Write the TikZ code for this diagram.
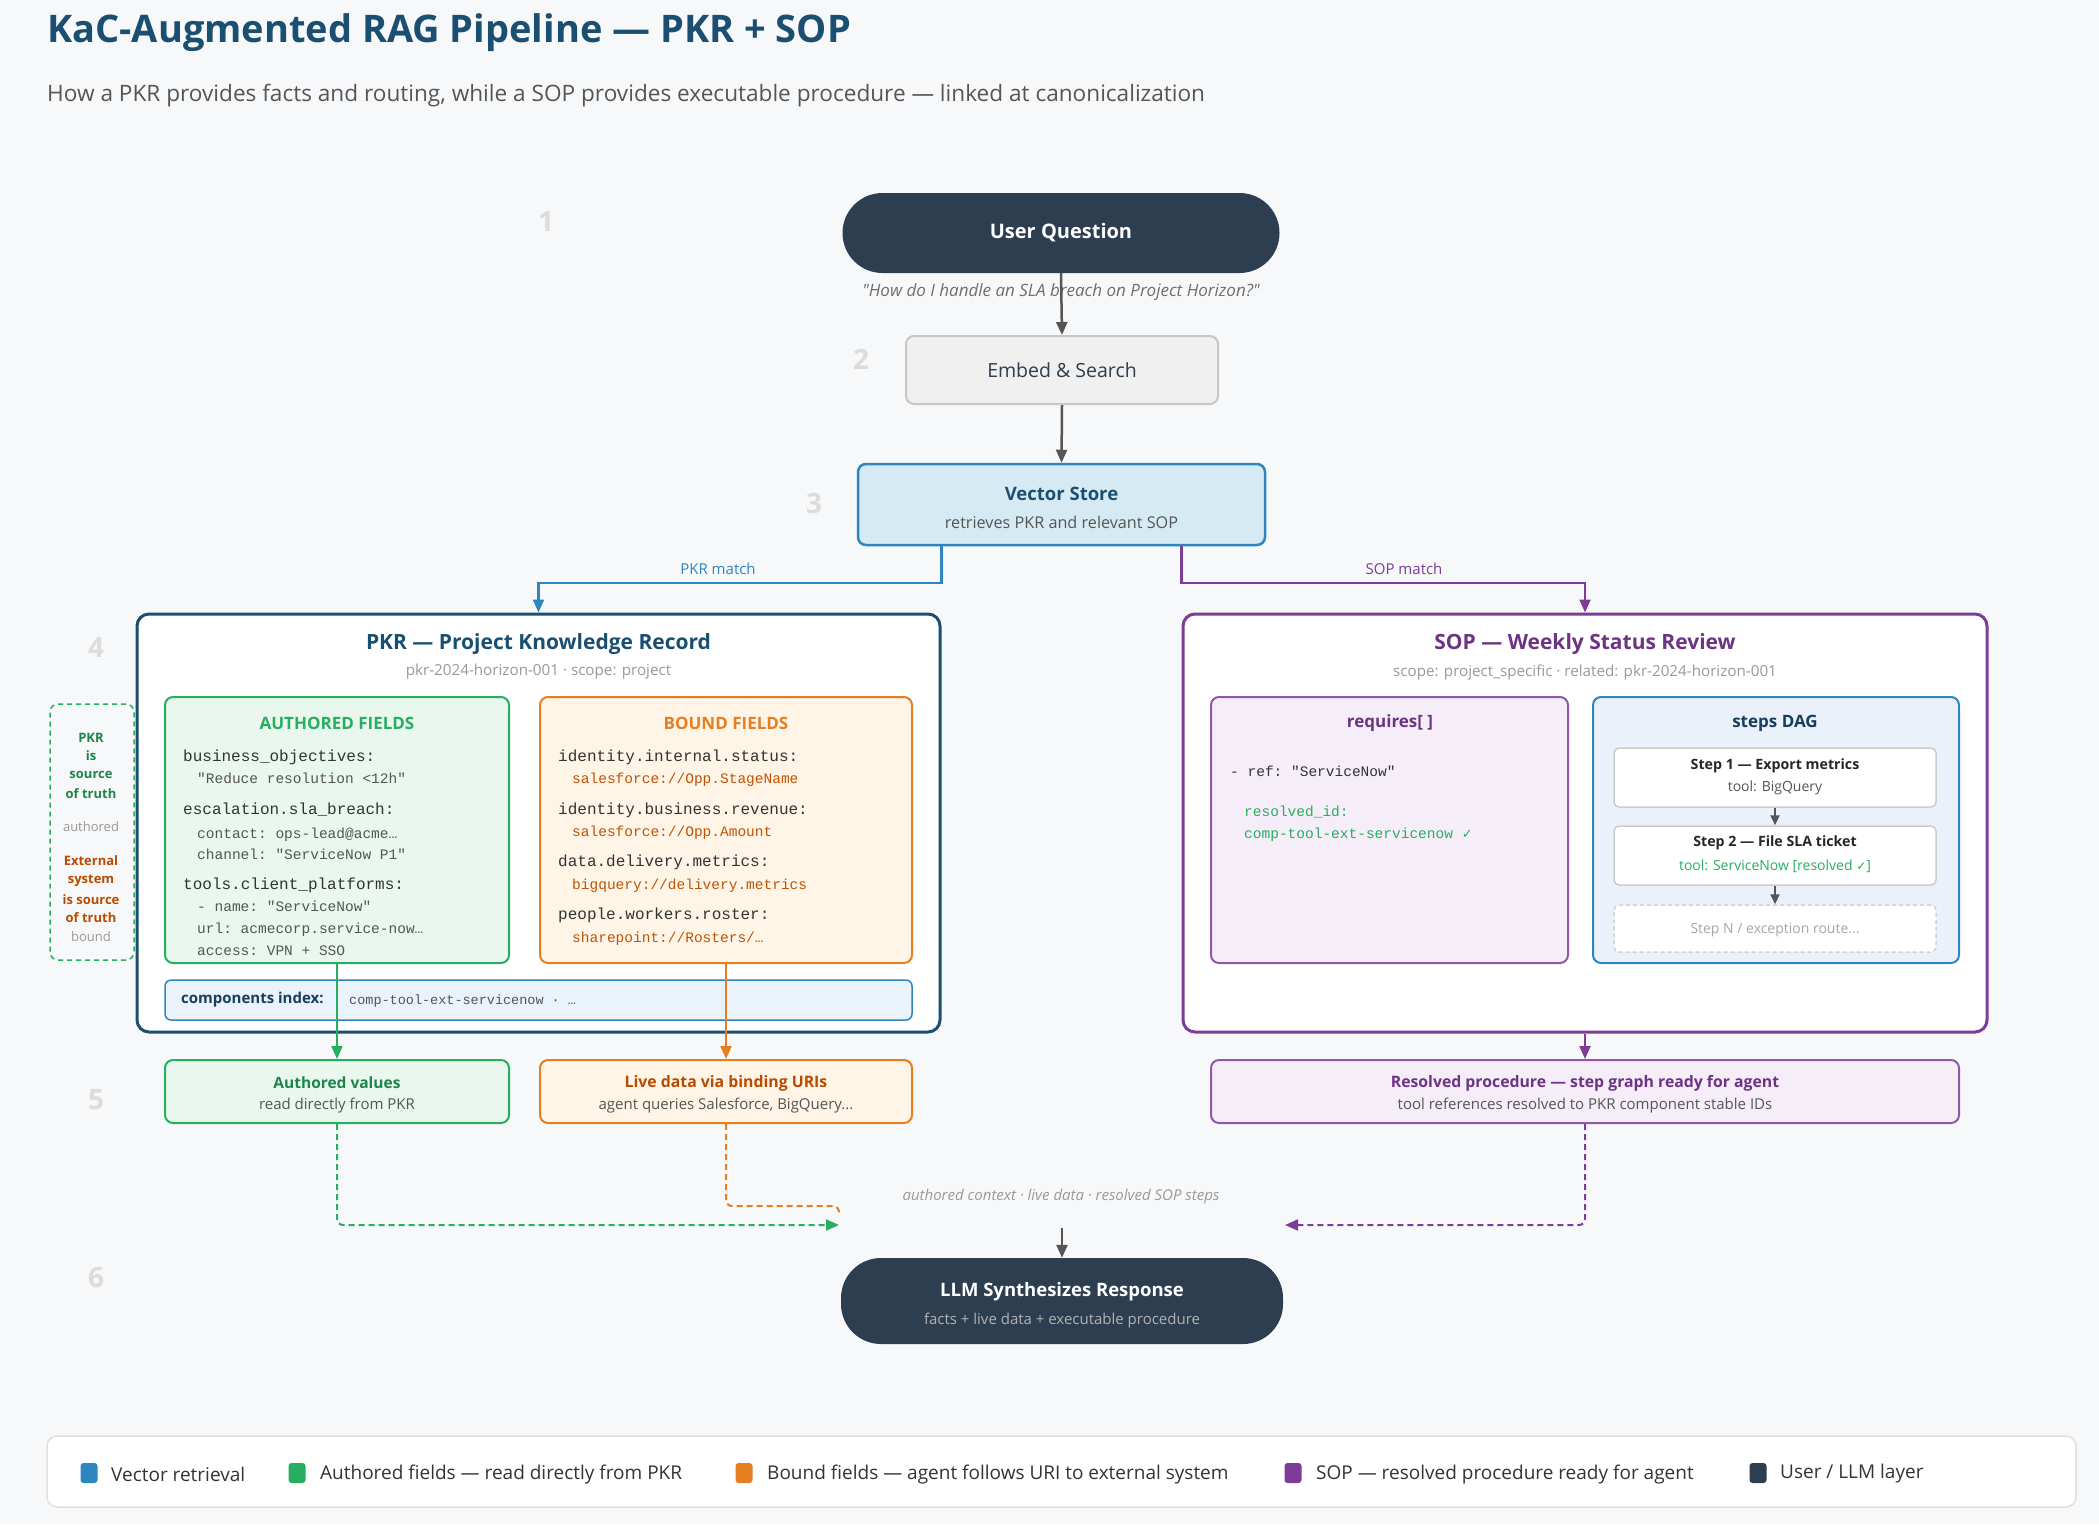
\documentclass[tikz,border=0pt]{standalone}
\usepackage{fontspec}
\setmainfont{Open Sans}
\setmonofont{Liberation Mono}
\newfontfamily\symfont{DejaVu Sans}
\newfontfamily\qfont[Ligatures=TeXOff]{Open Sans}
\usetikzlibrary{arrows.meta}
\newcommand\fsz[1]{\fontsize{#1pt}{1.25\dimexpr#1pt\relax}\selectfont}
\definecolor{bgc}{HTML}{F7F8FA}
\definecolor{ttl}{HTML}{1B4F72}
\definecolor{navy}{HTML}{2C3E50}
\definecolor{blu}{HTML}{2E86C1}
\definecolor{blufill}{HTML}{D6EAF3}
\definecolor{grn}{HTML}{27AE60}
\definecolor{grntxt}{HTML}{1E8449}
\definecolor{grnfill}{HTML}{E9F7EF}
\definecolor{org}{HTML}{E67E22}
\definecolor{orgtxt}{HTML}{BA4A00}
\definecolor{orgfill}{HTML}{FEF5E7}
\definecolor{pur}{HTML}{7D3C98}
\definecolor{purtxt}{HTML}{6C3483}
\definecolor{purfill}{HTML}{F5EEF8}
\definecolor{dagfill}{HTML}{EAF1FB}
\definecolor{compfill}{HTML}{EAF2FB}
\definecolor{gtxt}{HTML}{555555}
\definecolor{ltxt}{HTML}{999999}
\definecolor{numc}{HTML}{DCDCDC}
\definecolor{arr}{HTML}{555555}
\tikzset{
  x=1pt,y=-1pt,
  txt/.style={inner sep=0pt, anchor=center},
  pill/.style={fill=navy, draw=none, rounded corners=40pt},
  rbox/.style={rounded corners=8pt, line width=2pt},
  bigbox/.style={rounded corners=12pt, line width=3pt, fill=white},
  stepnum/.style={txt, text=numc, font=\fsz{28}\bfseries},
  mono/.style={anchor=base west, inner sep=0pt, font=\fsz{16}\ttfamily, text=black!80},
  monos/.style={anchor=base west, inner sep=0pt, font=\fsz{14.5}\ttfamily, text=gtxt},
  darr/.style={draw=arr, line width=2.5pt, -{Triangle[length=13pt,width=11pt]}},
  carr/.style={line width=2.2pt, -{Triangle[length=13pt,width=11pt]}},
  dsh/.style={line width=2pt, dash pattern=on 6pt off 4pt, rounded corners=6pt},
  legsq/.style={minimum width=17pt, minimum height=20pt, inner sep=0pt, rounded corners=3pt, draw=none},
  legtxt/.style={anchor=west, inner sep=0pt, font=\fsz{19}, text=black!80},
  side/.style={txt, font=\fsz{13}\bfseries, text=grntxt},
}
\begin{document}
\begin{tikzpicture}
\useasboundingbox[fill=bgc] (0,0) rectangle (2099,1524);

% title
\node[anchor=base west, inner sep=0pt, text=ttl, font=\fsz{38}\bfseries] (title) at (47,42) {KaC-Augmented RAG Pipeline — PKR + SOP};
\node[anchor=base west, inner sep=0pt, text=gtxt, font=\fsz{22.6}] (subtitle) at (47,101) {How a PKR provides facts and routing, while a SOP provides executable procedure — linked at canonicalization};

% step numbers
\node[stepnum] (n1) at (546,221) {1};
\node[stepnum] (n2) at (861,359) {2};
\node[stepnum] (n3) at (814,503) {3};
\node[stepnum] (n4) at (96,647) {4};
\node[stepnum] (n5) at (96,1100) {5};
\node[stepnum] (n6) at (96,1278) {6};

% user question
\node[pill, minimum width=437pt, minimum height=80pt, text=white, font=\fsz{20}\bfseries] (uq) at (1061,233) {User Question};
\node[txt, text=gtxt!85, font=\qfont\fsz{17}\itshape] (quote) at (1061,292) {"How do I handle an SLA breach on Project Horizon?"};

% embed
\node[rbox, draw=black!22, fill=black!6!white, minimum width=312pt, minimum height=68pt, text=navy, font=\fsz{19.5}] (emb) at (1062,370) {Embed \& Search};

% vector store
\node[rbox, line width=2.5pt, draw=blu, fill=blufill, minimum width=407pt, minimum height=81pt] (vs) at (1061.5,504.5) {};
\node[txt, text=ttl, font=\fsz{18.5}\bfseries] (vst) at (1061.5,494) {Vector Store};
\node[txt, text=gtxt, font=\fsz{16.2}] (vss) at (1061.5,522) {retrieves PKR and relevant SOP};

\draw[darr] (uq.south) -- (emb.north);
\draw[darr] (emb.south) -- (vs.north);

% PKR box
\node[bigbox, draw=ttl, minimum width=803pt, minimum height=418pt] (pkr) at (538.5,823) {};
\node[txt, text=ttl, font=\fsz{21}\bfseries] (pkrt) at (538.5,644) {PKR — Project Knowledge Record};
\node[txt, text=ltxt, font=\fsz{15.2}] (pkrs) at (538.5,672) {pkr-2024-horizon-001 · scope: project};

% SOP box
\node[bigbox, draw=pur, minimum width=804pt, minimum height=418pt] (sop) at (1585,823) {};
\node[txt, text=purtxt, font=\fsz{21}\bfseries] (sopt) at (1585,644) {SOP — Weekly Status Review};
\node[txt, text=ltxt, font=\fsz{15.2}] (sops) at (1585,672) {scope: project\_specific · related: pkr-2024-horizon-001};

% match connectors
\draw[carr, draw=blu] (vs.south -| pkr.north east) -- ++(0,37) -| (pkr.north);
\node[txt, text=blu, font=\fsz{15}] (pkrm) at (718,569) {PKR match};
\draw[carr, draw=pur] (vs.south -| sop.north west) -- ++(0,37) -| (sop.north);
\node[txt, text=pur, font=\fsz{15}] (sopm) at (1404,569) {SOP match};

% authored fields
\node[rbox, draw=grn, fill=grnfill, minimum width=344pt, minimum height=266pt] (auth) at (337,830) {};
\node[txt, text=grn, font=\fsz{17}\bfseries] (autht) at (337,723) {AUTHORED FIELDS};
\node[mono] (a1) at (183,761) {business\_objectives:};
\node[monos] (a2) at (197,783) {"Reduce resolution <12h"};
\node[mono] (a3) at (183,814) {escalation.sla\_breach:};
\node[monos] (a4) at (197,838) {contact: ops-lead@acme…};
\node[monos] (a5) at (197,859) {channel: "ServiceNow P1"};
\node[mono] (a6) at (183,889) {tools.client\_platforms:};
\node[monos] (a7) at (197,911) {- name: "ServiceNow"};
\node[monos] (a8) at (197,933) {url: acmecorp.service-now…};
\node[monos] (a9) at (197,955) {access: VPN + SSO};

% bound fields
\node[rbox, draw=org, fill=orgfill, minimum width=372pt, minimum height=266pt] (bnd) at (726,830) {};
\node[txt, text=org, font=\fsz{17}\bfseries] (bndt) at (726,723) {BOUND FIELDS};
\node[mono] (b1) at (558,761) {identity.internal.status:};
\node[monos, text=orgtxt!85!org] (b2) at (572,783) {salesforce://Opp.StageName};
\node[mono] (b3) at (558,814) {identity.business.revenue:};
\node[monos, text=orgtxt!85!org] (b4) at (572,836) {salesforce://Opp.Amount};
\node[mono] (b5) at (558,866) {data.delivery.metrics:};
\node[monos, text=orgtxt!85!org] (b6) at (572,889) {bigquery://delivery.metrics};
\node[mono] (b7) at (558,919) {people.workers.roster:};
\node[monos, text=orgtxt!85!org] (b8) at (572,942) {sharepoint://Rosters/…};

% components index
\node[rounded corners=6pt, line width=1.5pt, draw=blu, fill=compfill, minimum width=747pt, minimum height=40pt] (comp) at (538.5,1000) {};
\node[anchor=west, inner sep=0pt, text=ttl!80!black, font=\fsz{15}\bfseries] (compl) at (181,1000) {components index:};
\node[anchor=west, inner sep=0pt, text=gtxt, font=\fsz{13.5}\ttfamily] (compv) at (349,1001) {comp-tool-ext-servicenow · …};

% side note
\node[draw=grn, line width=1.5pt, dash pattern=on 5pt off 4pt, rounded corners=8pt, minimum width=84pt, minimum height=256pt] (sidebox) at (92,832) {};
\node[side] (s1) at (91,738) {PKR};
\node[side] (s2) at (91,756) {is};
\node[side] (s3) at (91,775) {source};
\node[side] (s4) at (91,794) {of truth};
\node[txt, font=\fsz{13}, text=ltxt] (s5) at (91,827) {authored};
\node[side, text=orgtxt] (s6) at (91,861) {External};
\node[side, text=orgtxt] (s7) at (91,881) {system};
\node[side, text=orgtxt] (s8) at (91,900) {is source};
\node[side, text=orgtxt] (s9) at (91,918) {of truth};
\node[txt, font=\fsz{13}, text=ltxt] (s10) at (91,937) {bound};

% requires
\node[rbox, draw=pur!85!white, fill=purfill, minimum width=357pt, minimum height=266pt] (req) at (1389.5,830) {};
\node[txt, text=purtxt, font=\fsz{17}\bfseries] (reqt) at (1390,723) {requires[ ]};
\node[monos, text=black!80] (r1) at (1230,776) {- ref: "ServiceNow"};
\node[monos, text=grn] (r2) at (1244,816) {resolved\_id:};
\node[monos, text=grn] (r3) at (1244,838) {comp-tool-ext-servicenow {\symfont\fsz{13}✓}};

% steps DAG
\node[rbox, draw=blu, fill=dagfill, minimum width=366pt, minimum height=266pt] (dag) at (1776,830) {};
\node[txt, text=ttl!80!black, font=\fsz{17}\bfseries] (dagt) at (1775,723) {steps DAG};
\node[rounded corners=5pt, line width=1.5pt, draw=black!20, fill=white, minimum width=322pt, minimum height=59pt] (st1) at (1775,777.5) {};
\node[txt, font=\fsz{14.2}\bfseries, text=black!85] (st1a) at (1775,766) {Step 1 — Export metrics};
\node[txt, font=\fsz{14}, text=gtxt] (st1b) at (1775,788) {tool: BigQuery};
\node[rounded corners=5pt, line width=1.5pt, draw=black!20, fill=white, minimum width=322pt, minimum height=59pt] (st2) at (1775,855.5) {};
\node[txt, font=\fsz{14.2}\bfseries, text=black!85] (st2a) at (1775,843) {Step 2 — File SLA ticket};
\node[txt, font=\fsz{14}, text=grn] (st2b) at (1775,866) {tool: ServiceNow [resolved {\symfont\fsz{12}✓}]};
\node[rounded corners=5pt, line width=1.5pt, draw=black!18, dash pattern=on 4pt off 3pt, fill=white, minimum width=322pt, minimum height=47pt] (stn) at (1775,928.5) {};
\node[txt, font=\fsz{14}, text=black!35] (stna) at (1775,930) {Step N / exception route...};
\draw[draw=arr, line width=2pt, -{Triangle[length=10pt,width=9pt]}] (st1.south) -- (st2.north);
\draw[draw=arr, line width=2pt, -{Triangle[length=10pt,width=9pt]}] (st2.south) -- (stn.north);

% level 5 boxes
\node[rbox, draw=grn, fill=grnfill, minimum width=344pt, minimum height=63pt] (av) at (337,1091.5) {};
\node[txt, text=grntxt, font=\fsz{15.5}\bfseries] (avt) at (337,1083) {Authored values};
\node[txt, text=gtxt, font=\fsz{15}] (avs) at (337,1106) {read directly from PKR};
\node[rbox, draw=org, fill=orgfill, minimum width=372pt, minimum height=63pt] (live) at (726,1091.5) {};
\node[txt, text=orgtxt, font=\fsz{15.8}\bfseries] (livet) at (726,1083) {Live data via binding URIs};
\node[txt, text=gtxt, font=\fsz{15}] (lives) at (726,1106) {agent queries Salesforce, BigQuery...};
\node[rbox, draw=pur!85!white, fill=purfill, minimum width=748pt, minimum height=63pt] (res) at (1585,1091.5) {};
\node[txt, text=purtxt, font=\fsz{15.8}\bfseries] (rest) at (1585,1083) {Resolved procedure — step graph ready for agent};
\node[txt, text=gtxt, font=\fsz{15}] (ress) at (1585,1106) {tool references resolved to PKR component stable IDs};

\draw[carr, draw=grn] (auth.south) -- (av.north);
\draw[carr, draw=org] (bnd.south) -- (live.north);
\draw[carr, draw=pur] (sop.south) -- (res.north);

% merge connectors
\coordinate (gin) at (839,1225);
\coordinate (oturn) at (839,1206);
\coordinate (oin) at (839,1216);
\coordinate (pin) at (1285,1225);
\coordinate (merge) at (1062,1228);
\draw[dsh, draw=org] (live.south) |- (oturn) -- (oin);
\draw[dsh, draw=grn, -{Triangle[length=13pt,width=11pt]}] (av.south) |- (gin);
\draw[dsh, draw=pur, -{Triangle[length=13pt,width=11pt]}] (res.south) |- (pin);
\node[txt, text=ltxt, font=\fsz{15}\itshape] (mlab) at (1061,1197) {authored context · live data · resolved SOP steps};

% LLM
\node[pill, minimum width=442pt, minimum height=86pt] (llm) at (1062,1301) {};
\node[txt, text=white, font=\fsz{18.5}\bfseries] (llmt) at (1062,1292) {LLM Synthesizes Response};
\node[txt, text=black!30!white, font=\fsz{15}] (llms) at (1062,1321) {facts + live data + executable procedure};
\draw[darr] (merge) -- (llm.north);

% legend
\node[rounded corners=10pt, draw=black!12, line width=1.5pt, fill=white, minimum width=2029pt, minimum height=71pt] (leg) at (1061.5,1471.5) {};
\node[legsq, fill=blu] (lq1) at (89,1473) {};
\node[legtxt] (lt1) at (111,1474) {Vector retrieval};
\node[legsq, fill=grn] (lq2) at (297,1473) {};
\node[legtxt] (lt2) at (320,1474) {Authored fields — read directly from PKR};
\node[legsq, fill=org] (lq3) at (744,1473) {};
\node[legtxt] (lt3) at (767,1474) {Bound fields — agent follows URI to external system};
\node[legsq, fill=pur] (lq4) at (1293,1473) {};
\node[legtxt] (lt4) at (1316,1474) {SOP — resolved procedure ready for agent};
\node[legsq, fill=navy] (lq5) at (1758,1473) {};
\node[legtxt] (lt5) at (1780,1474) {User / LLM layer};
\end{tikzpicture}
\end{document}
